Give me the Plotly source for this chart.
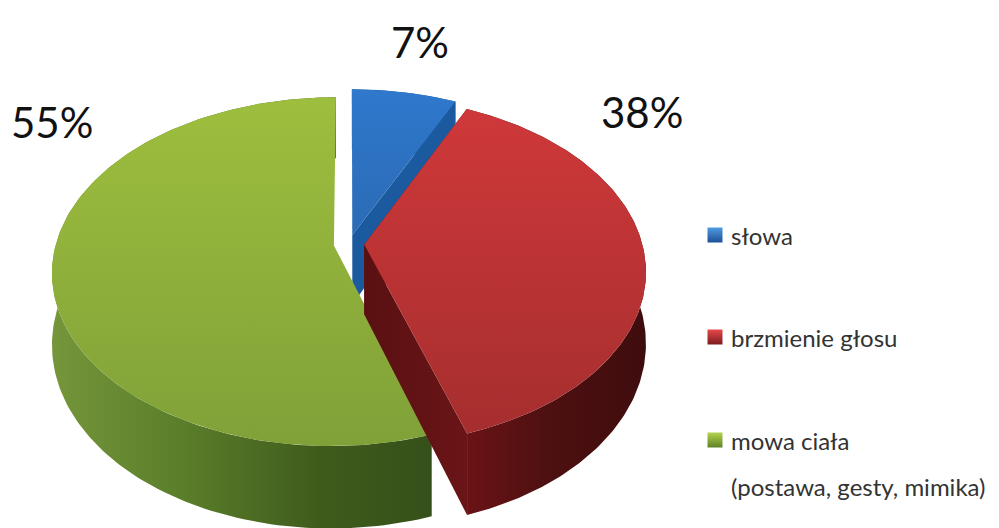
import numpy as np
import plotly.graph_objects as go

categories = ["słowa", "brzmienie głosu", "mowa ciała"]
values = [7, 38, 55]
value_labels = ["7%", "38%", "55%"]
legend_extra = "(postawa, gesty, mimika)"

top_scales = [
    [[0, "#2b6bb5"], [1, "#2f78cc"]],
    [[0, "#a62e2e"], [1, "#cf383a"]],
    [[0, "#80a138"], [1, "#9ebe3e"]],
]
outer_scales = [
    [[0, "#1c5590"], [1, "#1c5590"]],
    [[0, "#6a1315"], [0.45, "#4e1011"], [1, "#3f0c0d"]],
    [[0, "#75963a"], [0.35, "#5a7d2a"], [0.7, "#3f5c1c"], [1, "#35501a"]],
]
cut_scales = [
    [[0, "#1b5a9e"], [1, "#1b5a9e"]],
    [[0, "#5a1012"], [1, "#6a1517"]],
    [[0, "#3a5518"], [1, "#3a5518"]],
]
swatch_colors = [("#4f9be0", "#1f4f95"), ("#e8484a", "#7c1c1e"), ("#b4d24e", "#5f8228")]

X0, Y0, RX, RY, K, DEPTH, EXPLODE = 349, 244, 278, 170, 0.15, 70, 0.055
frac = np.array(values) / sum(values)
edges = np.concatenate([[0], np.cumsum(frac)]) * 2 * np.pi


def project(t, radius, off, lower=False):
    u = radius * np.sin(t) + off[0]
    v = -radius * np.cos(t) + off[1]
    w = 1 - K * v
    x = X0 + RX * u / w
    y = Y0 + RY * v / w
    if lower:
        y = y + DEPTH / w
    return x, y


def poly(color, xs, ys):
    return go.Scatter(
        x=np.r_[xs, xs[:1]], y=np.r_[ys, ys[:1]], mode="lines", fill="toself",
        line=dict(width=0), hoverinfo="skip", showlegend=False,
        fillgradient=color,
    )


fig = go.Figure()
for i in [0, 2, 1]:
    a, b = edges[i], edges[i + 1]
    mid = (a + b) / 2
    off = (EXPLODE * np.sin(mid), -EXPLODE * np.cos(mid))
    arc = np.linspace(a, b, 160)
    hx = dict(type="horizontal", colorscale=outer_scales[i])
    # outer wall
    xa, ya = project(arc, 1, off)
    xb, yb = project(arc, 1, off, True)
    fig.add_trace(poly(hx, np.r_[xa, xb[::-1]], np.r_[ya, yb[::-1]]))
    # radial cut walls
    for edge in (a, b):
        if i == 2:
            continue
        rr = np.array([0.0, 1.0])
        tt = np.array([edge, edge])
        x1, y1 = project(tt, rr, off)
        x2, y2 = project(tt, rr, off, True)
        fig.add_trace(poly(dict(type="horizontal", colorscale=cut_scales[i]),
                           np.r_[x1, x2[::-1]], np.r_[y1, y2[::-1]]))
    # top face
    ax, ay = project(np.array([a]), 0.0, off)
    fig.add_trace(poly(dict(type="vertical", colorscale=top_scales[i]),
                       np.r_[ax, xa], np.r_[ay, ya]))

swatch_x = 715
text_x = 729
legend_y = [235, 337, 440]
legend_font = dict(family="Lato", size=24, color="#333333")
for name, y, (c1, c2) in zip(categories, legend_y, swatch_colors):
    fig.add_trace(go.Scatter(
        x=[swatch_x], y=[y], mode="markers", hoverinfo="skip", showlegend=False,
        marker=dict(symbol="square", size=15, color=c1,
                    gradient=dict(type="vertical", color=c2), line=dict(width=0)),
    ))
    fig.add_annotation(x=text_x, y=y, text=name, xanchor="left", yanchor="middle",
                       showarrow=False, font=legend_font)
fig.add_annotation(x=text_x, y=486, text=legend_extra, xanchor="left", yanchor="middle",
                   showarrow=False, font=legend_font)

for text, x, y in zip(value_labels, [420, 642, 52], [42, 112, 122]):
    fig.add_annotation(x=x, y=y, text=text, showarrow=False,
                       font=dict(family="Lato", size=42, color="#111111"))

fig.update_layout(
    width=999, height=528, margin=dict(l=0, r=0, t=0, b=0),
    paper_bgcolor="white", plot_bgcolor="white", showlegend=False,
    xaxis=dict(range=[0, 999], visible=False, fixedrange=True),
    yaxis=dict(range=[528, 0], visible=False, fixedrange=True),
)
fig.write_html("out.html", config={"displayModeBar": False},
               post_script="document.body.style.margin='0';document.body.style.overflow='hidden';")
